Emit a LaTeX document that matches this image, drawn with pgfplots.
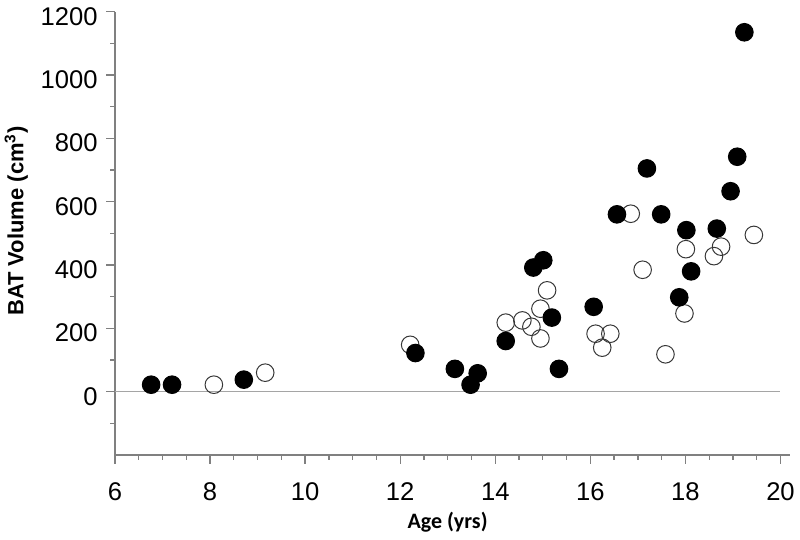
\documentclass[border=0pt]{standalone}
\usepackage{pgfplots}
\pgfplotsset{compat=1.18}
\usepackage{fontspec}
\setmainfont{Liberation Sans}
\newfontfamily\carlito{Carlito}
\definecolor{axisgray}{RGB}{128,128,128}
\definecolor{zerogray}{RGB}{165,165,165}
\definecolor{opengray}{RGB}{55,55,55}
\begin{document}
\begin{tikzpicture}
\path[use as bounding box] (-57.5pt,-42.5pt) rectangle (342.5pt,227.5pt);
\begin{axis}[
 at={(0,0)}, anchor=south west,
 scale only axis, width=337.5pt, height=221.65pt,
 xmin=6, xmax=20.2, ymin=-200, ymax=1200,
 axis lines*=left,
 axis line style={draw=axisgray, line width=0.65pt},
 xtick={6,8,...,20}, minor x tick num=3,
 ytick={0,200,...,1200}, minor ytick={-100,100,...,1100},
 tick align=outside, major tick length=4.4pt, minor tick length=2.3pt,
 tick style={draw=axisgray, line width=0.65pt},
 /pgf/number format/assume math mode=true,
 /pgf/number format/1000 sep={},
 tick label style={font=\fontsize{12.8}{15}\selectfont},
 yticklabel style={yshift=-2.3pt, xshift=-0.8pt},
 xticklabel style={yshift=-6pt},
 xlabel={Age (yrs)}, ylabel={BAT Volume (cm\textsuperscript{3})},
 xlabel style={font=\carlito\bfseries\fontsize{11}{13}\selectfont, at={(axis description cs:0.4927,-0.1669)}, anchor=base},
 ylabel style={font=\bfseries\fontsize{11}{13}\selectfont, at={(axis description cs:-0.1359,0.528)}, anchor=base},
 clip=false,
]
\addplot[draw=zerogray, line width=0.45pt, mark=none] coordinates {(6,0) (20,0)};
% open circles
\addplot[only marks, mark=o, mark size=4.4pt, mark options={draw=opengray, line width=0.5pt}] coordinates {
(8.08,22) (9.16,60) (12.21,148) (14.22,218) (14.57,225) (14.76,205) (14.95,168) (14.95,262)
(15.09,320) (16.11,183) (16.25,139) (16.42,183) (16.85,562) (17.10,385) (17.58,118)
(17.98,247) (18.01,450) (18.60,428) (18.75,458) (19.44,495)
};
% filled circles
\addplot[only marks, mark=*, mark size=4.4pt, mark options={draw=black, fill=black, line width=0.5pt}] coordinates {
(6.76,22) (7.20,22) (8.71,38) (12.32,122) (13.15,72) (13.48,22) (13.63,58) (14.22,160)
(14.80,392) (15.01,415) (15.19,234) (15.34,72) (16.07,268) (16.56,560) (17.19,705)
(17.49,560) (17.87,298) (18.02,510) (18.12,380) (18.66,515) (18.95,633) (19.09,742) (19.24,1135)
};
\end{axis}
\end{tikzpicture}
\end{document}
